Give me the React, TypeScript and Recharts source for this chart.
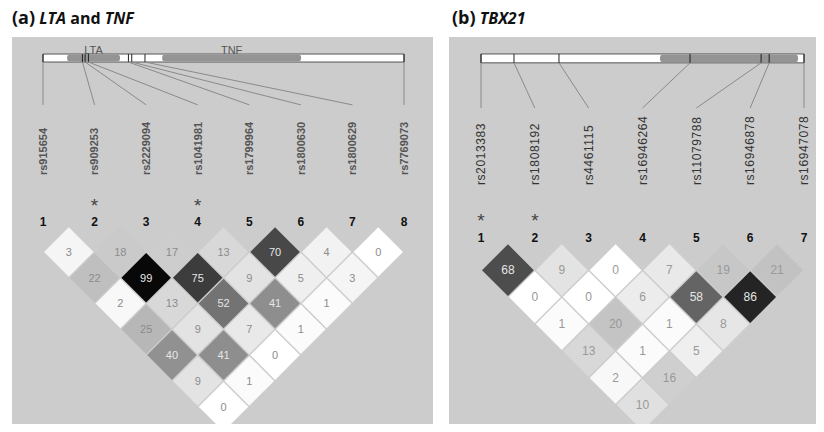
import React from 'react';
import { ScatterChart, Scatter, XAxis, YAxis, ReferenceArea, ReferenceLine } from 'recharts';

// (a) LTA / TNF
const LTA_SNPS = ['rs915654', 'rs909253', 'rs2229094', 'rs1041981', 'rs1799964', 'rs1800630', 'rs1800629', 'rs7769073'];
const LTA_POS_KB = [0, 1.31, 1.4, 1.51, 2.84, 2.95, 3.39, 12];
// r2 x 100, one row per marker distance (1 = neighbours)
const LTA_LD = [
  [3, 18, 17, 13, 70, 4, 0],
  [22, 99, 75, 9, 5, 3],
  [2, 13, 52, 41, 1],
  [25, 9, 7, 1],
  [40, 41, 0],
  [9, 1],
  [0],
];
const LTA_TAGGED = [2, 4];
const LTA_GENES = [
  { name: 'LTA', start: 0.8, end: 2.56 },
  { name: 'TNF', start: 3.96, end: 8.58 },
];

// (b) TBX21
const TBX_SNPS = ['rs2013383', 'rs1808192', 'rs4461115', 'rs16946264', 'rs11079788', 'rs16946878', 'rs16947078'];
const TBX_POS_KB = [0, 1.43, 3.38, 9.06, 12.14, 12.49, 14];
const TBX_LD = [
  [68, 9, 0, 7, 19, 21],
  [0, 0, 6, 58, 86],
  [1, 20, 1, 8],
  [13, 1, 5],
  [2, 16],
  [10],
];
const TBX_TAGGED = [1, 2];
const TBX_GENES = [{ name: '', start: 7.76, end: 13.74 }];

const FONT = '"Liberation Sans", Arial, sans-serif';

// r2 -> grey, white for 0 and near black for 100
const shade = (v: number) => {
  const t = v / 100;
  const a = Math.pow(1 - t, 1.1);
  const b = 1 - 0.95 * Math.pow(t, 0.85);
  const g = Math.round(255 * (a + b) / 2);
  return `rgb(${g},${g},${g})`;
};

interface Rows { barTop: number; barBottom: number; connEnd: number; labelBottom: number; star: number; num: number }

interface PanelProps {
  snps: string[];
  posKb: number[];
  ld: number[][];
  tagged: number[];
  genes: { name: string; start: number; end: number }[];
  left: number;
  width: number;
  mLeft: number;
  mRight: number;
  yDomain: [number, number];
  rows: Rows;
  labelSize: number;
  labelColor: string;
  labelWeight: string;
  cellSize: number;
  cellText: string;
}

const LDPanel = (p: PanelProps) => {
  const n = p.snps.length;
  const height = 395;
  const spacing = (p.width - p.mLeft - p.mRight) / (n - 1);
  const half = spacing / 2 - 1;
  const span = p.posKb[n - 1] - p.posKb[0];
  const toIdx = (kb: number) => 1 + ((kb - p.posKb[0]) / span) * (n - 1);

  const cells = p.ld.flatMap((row, r) =>
    row.map((v, i) => ({ x: i + 1 + (r + 1) / 2, y: r + 1, v }))
  );
  const labels = p.snps.map((s, i) => ({ x: i + 1, y: p.rows.labelBottom, s }));
  const nums = p.snps.map((_, i) => ({ x: i + 1, y: p.rows.num, s: String(i + 1) }));
  const stars = p.tagged.map((t) => ({ x: t, y: p.rows.star }));

  return (
    <div style={{ position: 'absolute', left: p.left, top: 37, width: p.width, height, background: '#cccccc' }}>
      <ScatterChart width={p.width} height={height} margin={{ top: 0, bottom: 0, left: p.mLeft, right: p.mRight }} style={{ overflow: 'visible' }}>
        <XAxis type="number" dataKey="x" domain={[1, n]} hide />
        <YAxis type="number" dataKey="y" domain={p.yDomain} reversed hide />
        <ReferenceArea x1={1} x2={n} y1={p.rows.barTop} y2={p.rows.barBottom} fill="#ffffff" fillOpacity={1} stroke="#555" ifOverflow="visible" />
        {p.genes.map((g) => (
          <ReferenceArea
            key={g.name + g.start}
            x1={toIdx(g.start)}
            x2={toIdx(g.end)}
            y1={p.rows.barTop + 0.02}
            y2={p.rows.barBottom - 0.02}
            fill="#949494"
            fillOpacity={1}
            radius={3}
            ifOverflow="visible"
            label={g.name ? { value: g.name, position: 'top', fill: '#555', fontSize: 11, fontFamily: FONT, offset: 1 } : undefined}
          />
        ))}
        {p.posKb.map((kb, i) => (
          <ReferenceLine
            key={'t' + i}
            segment={[{ x: toIdx(kb), y: p.rows.barTop }, { x: toIdx(kb), y: p.rows.barBottom }]}
            stroke="#222"
            ifOverflow="visible"
          />
        ))}
        {p.posKb.map((kb, i) => (
          <ReferenceLine
            key={'c' + i}
            segment={[{ x: toIdx(kb), y: p.rows.barBottom }, { x: i + 1, y: p.rows.connEnd }]}
            stroke="#8a8a8a"
            ifOverflow="visible"
          />
        ))}
        <Scatter
          data={labels}
          isAnimationActive={false}
          shape={(s: any) => (
            <text
              x={s.cx}
              y={s.cy}
              dy="0.35em"
              transform={`rotate(-90 ${s.cx} ${s.cy})`}
              fontSize={p.labelSize}
              fontWeight={p.labelWeight}
              fontFamily={FONT}
              fill={p.labelColor}
              letterSpacing={p.labelSize > 11 ? 0.6 : 0}
            >
              {s.payload.s}
            </text>
          )}
        />
        <Scatter
          data={nums}
          isAnimationActive={false}
          shape={(s: any) => (
            <text x={s.cx} y={s.cy} dy="0.35em" textAnchor="middle" fontSize={12} fontWeight="bold" fontFamily={FONT} fill="#111">
              {s.payload.s}
            </text>
          )}
        />
        <Scatter
          data={stars}
          isAnimationActive={false}
          shape={(s: any) => (
            <text x={s.cx} y={s.cy} dy="0.62em" textAnchor="middle" fontSize={19} fontFamily={FONT} fill="#444">
              *
            </text>
          )}
        />
        <Scatter
          data={cells}
          isAnimationActive={false}
          shape={(s: any) => {
            const { cx, cy } = s;
            const v = s.payload.v;
            return (
              <g>
                <path
                  d={`M${cx},${cy - half} L${cx + half},${cy} L${cx},${cy + half} L${cx - half},${cy} Z`}
                  fill={shade(v)}
                />
                <text x={cx} y={cy} dy="0.35em" textAnchor="middle" fontSize={p.cellSize} fontFamily={FONT} fill={v >= 40 ? '#e6e6e6' : p.cellText}>
                  {v}
                </text>
              </g>
            );
          }}
        />
      </ScatterChart>
    </div>
  );
};

const App = () => (
  <div style={{ position: 'relative', width: 824, height: 432, margin: -8, background: '#fff', overflow: 'hidden', fontFamily: '"Open Sans", sans-serif' }}>
    <div style={{ position: 'absolute', left: 12, top: 5, fontSize: 16, fontWeight: 700, color: '#111', whiteSpace: 'nowrap' }}>
      <span style={{ fontSize: 18 }}>(a)</span> <i>LTA</i> and <i>TNF</i>
    </div>
    <div style={{ position: 'absolute', left: 452, top: 5, fontSize: 16, fontWeight: 700, color: '#111', whiteSpace: 'nowrap' }}>
      <span style={{ fontSize: 18 }}>(b)</span> <i>TBX21</i>
    </div>
    <LDPanel
      snps={LTA_SNPS}
      posKb={LTA_POS_KB}
      ld={LTA_LD}
      tagged={LTA_TAGGED}
      genes={LTA_GENES}
      left={12}
      width={421}
      mLeft={31}
      mRight={29}
      yDomain={[-7.33, 7.98]}
      rows={{ barTop: -6.67, barBottom: -6.36, connEnd: -4.7, labelBottom: -1.98, star: -1.02, num: -0.16 }}
      labelSize={11}
      labelColor="#555"
      labelWeight="bold"
      cellSize={11}
      cellText="#8c8c8c"
    />
    <LDPanel
      snps={TBX_SNPS}
      posKb={TBX_POS_KB}
      ld={TBX_LD}
      tagged={TBX_TAGGED}
      genes={TBX_GENES}
      left={449}
      width={375}
      mLeft={32}
      mRight={20}
      yDomain={[-7.66, 7.01]}
      rows={{ barTop: -7.03, barBottom: -6.7, connEnd: -5.02, labelBottom: -2.16, star: -1.04, num: -0.19 }}
      labelSize={12}
      labelColor="#333"
      labelWeight="normal"
      cellSize={12}
      cellText="#999"
    />
  </div>
);

export default App;
